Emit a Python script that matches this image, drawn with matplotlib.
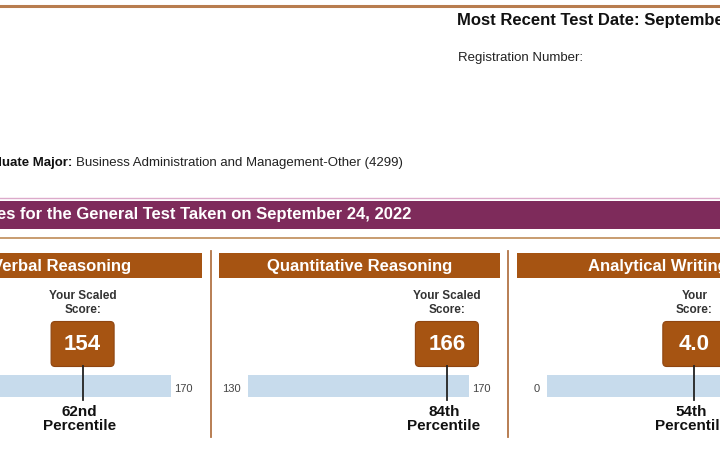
import matplotlib
matplotlib.use("Agg")
import matplotlib.pyplot as plt
from matplotlib.patches import FancyBboxPatch, Rectangle

plt.rcParams["font.family"] = ["Liberation Sans", "DejaVu Sans"]

sections = ["Verbal Reasoning", "Quantitative Reasoning", "Analytical Writing"]
scores = [154, 166, 4.0]
score_labels = ["154", "166", "4.0"]
scale_min = [130, 130, 0]
scale_max = [170, 170, 6]
percentiles = ["62nd", "84th", "54th"]
score_titles = ["Your Scaled\nScore:", "Your Scaled\nScore:", "Your\nScore:"]

BROWN = "#a65412"
PURPLE = "#7e2b5b"
BAR_BLUE = "#c7dbec"

fig = plt.figure(figsize=(7.2, 4.75), dpi=100)

# score bars: one axes per section, pixel extents of the bar
bar_px = [(-50, 171), (248, 469), (547, 768)]
bar_axes = []
for i, (x0, x1) in enumerate(bar_px):
    ax = fig.add_axes([x0 / 720, (475 - 397) / 475, (x1 - x0) / 720, 22 / 475])
    ax.set_xlim(scale_min[i], scale_max[i])
    ax.set_ylim(0, 1)
    ax.axis("off")
    ax.barh(0.5, scale_max[i] - scale_min[i], left=scale_min[i], height=1,
            color=BAR_BLUE, lw=0)
    bar_axes.append(ax)

# overlay axes in pixel coordinates (origin top-left), drawn above the bars
bg = fig.add_axes([0, 0, 1, 1])
bg.set_xlim(0, 720)
bg.set_ylim(475, 0)
bg.axis("off")
bg.set_zorder(5)

# page furniture
bg.plot([0, 720], [6, 6], color="#b87d4f", lw=2.2)
bg.text(457, 20, "Most Recent Test Date: September 24, 2022", fontsize=12,
        fontweight="bold", va="center", ha="left", color="#111111")
bg.text(458, 58, "Registration Number:", fontsize=9.5, va="center", ha="left", color="#222222")
bg.text(72, 163, "Graduate Major:", fontsize=9.5, fontweight="bold", va="center",
        ha="right", color="#111111")
bg.text(76, 163, "Business Administration and Management-Other (4299)", fontsize=9.5,
        va="center", ha="left", color="#222222")
bg.plot([0, 720], [198, 198], color="#dcaacb", lw=1)
bg.add_patch(Rectangle((0, 201), 720, 28, color=PURPLE, lw=0))
bg.text(411, 215, "Scores for the General Test Taken on September 24, 2022", fontsize=12,
        fontweight="bold", color="white", va="center", ha="right")
bg.plot([0, 720], [238, 238], color="#bf8b58", lw=1.2)

# section dividers
for xd in [211, 508]:
    bg.plot([xd, xd], [251, 437], color="#b27445", lw=1.3)

# section headers
headers = [(-70, 202), (219, 500), (517, 790)]
head_text_x = [(131, "right"), (360, "center"), (588, "left")]
for (x0, x1), (tx, ha), name in zip(headers, head_text_x, sections):
    bg.add_patch(Rectangle((x0, 253), x1 - x0, 25, color=BROWN, lw=0))
    bg.text(tx, 266, name, fontsize=12, fontweight="bold", color="white",
            va="center", ha=ha)

for i, ax in enumerate(bar_axes):
    # marker position in pixel space, through the bar's own scale
    to_px = lambda v: bg.transData.inverted().transform(ax.transData.transform((v, 0.5)))[0]
    mx = to_px(scores[i])

    bg.plot([mx, mx], [366, 400], color="#222222", lw=1.3)
    bg.add_patch(FancyBboxPatch((mx - 30, 323), 60, 42,
                                boxstyle="round,pad=1.5,rounding_size=4",
                                fc=BROWN, ec="#8f4510", lw=0.8))
    bg.text(mx, 344.5, score_labels[i], fontsize=16, fontweight="bold",
            color="white", ha="center", va="center")
    bg.text(mx, 303, score_titles[i], fontsize=8.5, fontweight="bold",
            color="#333333", ha="center", va="center", linespacing=1.2)
    bg.text(mx - 3, 419, percentiles[i] + "\nPercentile", fontsize=11,
            fontweight="bold", color="#111111", ha="center", va="center",
            linespacing=0.95)

    # scale end labels
    bg.text(to_px(scale_min[i]) - 7, 389, str(scale_min[i]), fontsize=8,
            color="#444444", ha="right", va="center")
    bg.text(to_px(scale_max[i]) + 3, 389, str(scale_max[i]), fontsize=8,
            color="#444444", ha="left", va="center")

fig.savefig("out.png", dpi=100)
